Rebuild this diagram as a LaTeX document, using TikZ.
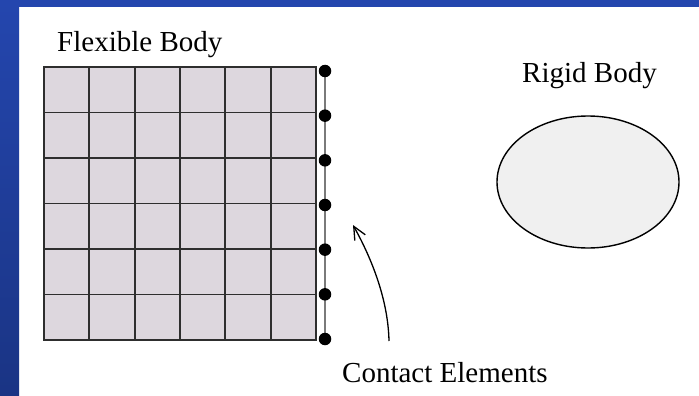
\documentclass[tikz,border=0pt]{standalone}
\usepackage{fontspec}
\setmainfont{Liberation Serif}
\usetikzlibrary{arrows.meta,shapes.geometric,backgrounds}
\definecolor{slideBlue}{HTML}{2446AE}
\definecolor{slideBlueDark}{HTML}{1A3484}
\definecolor{meshFill}{HTML}{DDD7DE}
\definecolor{meshLine}{HTML}{2E2E2E}
\definecolor{rigidFill}{HTML}{F0F0F0}
\definecolor{contactLine}{HTML}{7A7A7A}
\tikzset{
    body/label/.style={
        font=\fontsize{29}{34}\selectfont, text=black, inner sep=0pt
    },
    body/mesh line/.style={
        draw=meshLine, line width=1.8pt, line cap=rect
    },
    body/rigid/.style={
        ellipse, draw=black, fill=rigidFill, line width=1.4pt,
        minimum width=182pt, minimum height=132pt, inner sep=0pt
    },
    body/contact/.style={
        circle, fill=black, minimum size=12.5pt, inner sep=0pt
    },
    body/contact line/.style={
        draw=contactLine, line width=1.8pt
    },
    body/pointer/.style={
        draw=black, line width=1.3pt,
        -{Straight Barb[length=13pt,width=12pt]}
    }
}

\begin{document}
\begin{tikzpicture}[x=1pt,y=-1pt]
    \useasboundingbox (0,0) rectangle (699,396);

    \fill[meshFill] (44,67) rectangle (316,340);
    \foreach \i in {0,...,6} {
        \draw[body/mesh line] ({44+\i*272/6},67) -- ({44+\i*272/6},340);
        \draw[body/mesh line] (44,{67+\i*273/6}) -- (316,{67+\i*273/6});
    }

    \foreach \k in {1,...,7}
        \node[body/contact] (contact\k) at (325,{71+(\k-1)*268/6}) {};
    \begin{scope}[on background layer]
        \fill[white] (0,0) rectangle (699,396);
        \shade[top color=slideBlue, bottom color=slideBlueDark]
            (0,0) rectangle (19,396);
        \fill[slideBlue] (0,0) rectangle (699,7);
        \draw[body/contact line] (contact1.center) -- (contact7.center);
    \end{scope}

    \node[body/rigid] (rigidBody) at (588,182) {};

    \node[body/label, anchor=base west] (flexibleLabel) at (57,52)
        {Flexible Body};
    \node[body/label, anchor=base west] (rigidLabel) at (522,83)
        {Rigid Body};
    \node[body/label, anchor=base west] (contactLabel) at (342,382)
        {Contact Elements};

    \coordinate (pointerTail) at (389,341);
    \coordinate (pointerTip) at (353,225);
    \draw[body/pointer] (pointerTail) .. controls (388,295) and (368,252)
        .. (pointerTip);
\end{tikzpicture}
\end{document}
